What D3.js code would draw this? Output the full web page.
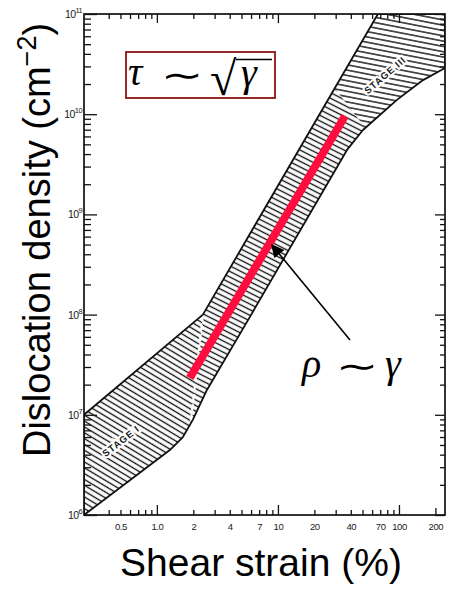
<!DOCTYPE html>
<html>
<head>
<meta charset="utf-8">
<script src="https://cdn.jsdelivr.net/npm/d3@7"></script>
<style>
  body { margin: 0; background: #fff; }
  svg { display: block; }
</style>
</head>
<body>
<svg id="chart" width="449" height="590"></svg>
<script>
// ---- data: shear strain (%) vs dislocation density (cm^-2) ----
const xDomain = [0.25, 240];
const yDomain = [1e6, 1e11];
const xTickValues = [0.5, 1, 2, 4, 7, 10, 20, 40, 70, 100, 200];
const xTickLabels = ["0.5", "1.0", "2", "4", "7", "10", "20", "40", "70", "100", "200"];
const xMajorTicks = [1, 10, 100];
const xMinorTicks = [0.4, 0.5, 0.6, 0.7, 0.8, 0.9, 2, 3, 4, 5, 6, 7, 8, 9,
                     20, 30, 40, 50, 60, 70, 80, 90];
const xEndTicks = [200];
const yDecades = [1e6, 1e7, 1e8, 1e9, 1e10, 1e11];
const yDecadeExponents = ["6", "7", "8", "9", "10", "11"];
const yMinorMultipliers = [2, 3, 4, 5, 6, 7, 8, 9];

// scatter band of measured densities
const upperEdge = [[0.25, 1e7], [2.4, 1e8], [67, 1e11], [240, 1e11]];
const lowerEdge = [[0.25, 1e6], [1.28, 4.45e6], [1.64, 6.0e6], [1.98, 8.9e6],
                   [2.59, 1.77e7], [5.87, 9.5e7], [37.2, 4.4e9], [50.4, 6.95e9],
                   [96.2, 1.39e10], [158, 2.19e10], [240, 2.89e10]];
// borders between hardening stages I / II and II / III
const stageOneBorder = [[2.4, 1e8], [1.9, 8.2e6]];
const stageThreeBorder = [[29.6, 1.8e10], [52.2, 7.4e9]];
const stageLabels = [
  { text: "STAGE I", at: [0.504, 5.48e6], angle: -38 },
  { text: "STAGE III", at: [76.6, 2.46e10], angle: -41 }
];
// linear rho ~ gamma fit through stage II
const fitLine = [[1.87, 2.33e7], [35.8, 9.6e9]];
const arrowFrom = [39.4, 5.58e7];
const arrowTo = [8.92, 4.95e8];

// ---- layout ----
const plot = { left: 84, right: 445, top: 14, bottom: 515 };
const svg = d3.select("#chart");
const defs = svg.append("defs");

const x = d3.scaleLog().domain(xDomain).range([plot.left, plot.right]);
const y = d3.scaleLog().domain(yDomain).range([plot.bottom, plot.top]);
const px = d => [x(d[0]), y(d[1])];

// hatch patterns, one per stage
function hatch(id, angle, gap) {
  const p = defs.append("pattern")
    .attr("id", id)
    .attr("patternUnits", "userSpaceOnUse")
    .attr("width", 20).attr("height", gap)
    .attr("patternTransform", `rotate(${angle})`);
  p.append("line")
    .attr("x1", -1).attr("x2", 21)
    .attr("y1", gap / 2).attr("y2", gap / 2)
    .attr("stroke", "#0d0d0d").attr("stroke-width", 1.35);
}
hatch("hatch1", 31, 5);
hatch("hatch2", 27, 5);
hatch("hatch3", 11, 5.2);

defs.append("clipPath").attr("id", "plotClip")
  .append("rect")
  .attr("x", plot.left).attr("y", plot.top)
  .attr("width", plot.right - plot.left).attr("height", plot.bottom - plot.top);

const bandPoints = upperEdge.concat(lowerEdge.slice().reverse());
const bandLine = d3.line().x(d => x(d[0])).y(d => y(d[1]));
defs.append("clipPath").attr("id", "bandClip")
  .append("path").attr("d", bandLine(bandPoints) + "Z");

// polygon covering the side of line pq that holds point ref
function halfPlane(p, q, ref) {
  const dx = q[0] - p[0], dy = q[1] - p[1], L = Math.hypot(dx, dy);
  const ux = dx / L, uy = dy / L;
  let nx = -uy, ny = ux;
  if ((ref[0] - p[0]) * nx + (ref[1] - p[1]) * ny < 0) { nx = -nx; ny = -ny; }
  const F = 2000;
  const a = [p[0] - ux * F, p[1] - uy * F], b = [p[0] + ux * F, p[1] + uy * F];
  return [a, b, [b[0] + nx * F, b[1] + ny * F], [a[0] + nx * F, a[1] + ny * F]];
}
defs.append("clipPath").attr("id", "stage1Clip")
  .append("polygon")
  .attr("points", halfPlane(px(stageOneBorder[0]), px(stageOneBorder[1]),
                            [plot.left, plot.bottom]).join(" "));
defs.append("clipPath").attr("id", "stage3Clip")
  .append("polygon")
  .attr("points", halfPlane(px(stageThreeBorder[0]), px(stageThreeBorder[1]),
                            [plot.right, plot.top]).join(" "));

// ---- band ----
const band = svg.append("g").attr("clip-path", "url(#plotClip)")
  .append("g").attr("clip-path", "url(#bandClip)");
const full = { x: plot.left, y: plot.top, width: plot.right - plot.left, height: plot.bottom - plot.top };
function fillRect(g, fill) {
  g.append("rect").attr("x", full.x).attr("y", full.y)
    .attr("width", full.width).attr("height", full.height).attr("fill", fill);
}
fillRect(band, "url(#hatch2)");
const s1 = band.append("g").attr("clip-path", "url(#stage1Clip)");
fillRect(s1, "#fff"); fillRect(s1, "url(#hatch1)");
const s3 = band.append("g").attr("clip-path", "url(#stage3Clip)");
fillRect(s3, "#fff"); fillRect(s3, "url(#hatch3)");

// light gap between stage I and stage II hatching
band.append("line")
  .attr("x1", x(stageOneBorder[0][0])).attr("y1", y(stageOneBorder[0][1]))
  .attr("x2", x(stageOneBorder[1][0])).attr("y2", y(stageOneBorder[1][1]))
  .attr("stroke", "#fff").attr("stroke-width", 2.2)
  .attr("stroke-dasharray", "7 3");

svg.append("g").attr("clip-path", "url(#plotClip)")
  .append("path")
  .attr("d", bandLine(bandPoints) + "Z")
  .attr("fill", "none").attr("stroke", "#111").attr("stroke-width", 1.8)
  .attr("stroke-linejoin", "round");

svg.selectAll(".stage-label").data(stageLabels).join("text")
  .attr("class", "stage-label")
  .attr("transform", d => `translate(${x(d.at[0])},${y(d.at[1])}) rotate(${d.angle})`)
  .attr("text-anchor", "middle").attr("dominant-baseline", "central")
  .attr("font-family", "Liberation Sans, Arial, sans-serif")
  .attr("font-size", 9.5).attr("font-weight", "bold").attr("letter-spacing", 1)
  .attr("fill", "#1a1a1a").attr("stroke", "#fff").attr("stroke-width", 4)
  .attr("paint-order", "stroke")
  .text(d => d.text);

// ---- frame and ticks ----
svg.append("rect")
  .attr("x", plot.left).attr("y", plot.top)
  .attr("width", plot.right - plot.left).attr("height", plot.bottom - plot.top)
  .attr("fill", "none").attr("stroke", "#111").attr("stroke-width", 1.7);

function tickRow(axisFn, scale, values, size, tx, ty) {
  const g = svg.append("g").attr("transform", `translate(${tx},${ty})`)
    .call(axisFn(scale).tickValues(values).tickSize(size).tickSizeOuter(0).tickFormat(""));
  g.select(".domain").remove();
  g.selectAll("line").attr("stroke", "#111").attr("stroke-width", 1.3);
  return g;
}
const yMinorTicks = [];
yDecades.slice(0, -1).forEach(d => yMinorMultipliers.forEach(m => yMinorTicks.push(d * m)));

tickRow(d3.axisBottom, x, xMinorTicks, -5, 0, plot.bottom);
tickRow(d3.axisBottom, x, xMajorTicks, -10, 0, plot.bottom);
tickRow(d3.axisBottom, x, xEndTicks, -7, 0, plot.bottom);
tickRow(d3.axisTop, x, xMinorTicks, -5, 0, plot.top);
tickRow(d3.axisTop, x, xMajorTicks, -9, 0, plot.top);
tickRow(d3.axisLeft, y, yMinorTicks, -7, plot.left, 0);
tickRow(d3.axisLeft, y, yDecades, -13, plot.left, 0);
tickRow(d3.axisRight, y, yMinorTicks, -5, plot.right, 0);
tickRow(d3.axisRight, y, yDecades, -10, plot.right, 0);

// x tick labels
const xl = svg.append("g").attr("transform", `translate(0,${plot.bottom})`)
  .call(d3.axisBottom(x).tickValues(xTickValues).tickSize(0).tickPadding(8)
    .tickFormat((d, i) => xTickLabels[i]));
xl.select(".domain").remove();
xl.selectAll("text").attr("font-family", "Liberation Sans, Arial, sans-serif")
  .attr("font-size", 9.5).attr("fill", "#1a1a1a").attr("letter-spacing", -0.4);

// y tick labels: 10 with superscript exponent
const yl = svg.append("g");
yDecades.forEach((d, i) => {
  const t = yl.append("text")
    .attr("x", plot.left - 2).attr("y", y(d) + 4)
    .attr("text-anchor", "end")
    .attr("font-family", "Liberation Sans, Arial, sans-serif")
    .attr("font-size", 10.5).attr("fill", "#1a1a1a").attr("letter-spacing", -0.6);
  t.append("tspan").text("10");
  t.append("tspan").attr("dy", -5).attr("font-size", 7.5).text(yDecadeExponents[i]);
});

// ---- fit line and pointer ----
svg.append("line")
  .attr("x1", x(fitLine[0][0])).attr("y1", y(fitLine[0][1]))
  .attr("x2", x(fitLine[1][0])).attr("y2", y(fitLine[1][1]))
  .attr("stroke", "#ff0d3f").attr("stroke-width", 8);

defs.append("marker").attr("id", "arrowHead")
  .attr("viewBox", "0 0 10 10").attr("refX", 9).attr("refY", 5)
  .attr("markerUnits", "userSpaceOnUse")
  .attr("markerWidth", 15).attr("markerHeight", 13)
  .attr("orient", "auto")
  .append("path").attr("d", "M0,0 L10,5 L0,10 Z").attr("fill", "#000");
svg.append("line")
  .attr("x1", x(arrowFrom[0])).attr("y1", y(arrowFrom[1]))
  .attr("x2", x(arrowTo[0])).attr("y2", y(arrowTo[1]))
  .attr("stroke", "#000").attr("stroke-width", 1.6)
  .attr("marker-end", "url(#arrowHead)");

// ---- scaling-law annotations ----
const math = "Liberation Serif, DejaVu Serif, serif";
function mathText(str, xPos, yPos, size, italic) {
  return svg.append("text").attr("x", xPos).attr("y", yPos)
    .attr("font-family", math).attr("font-size", size)
    .attr("font-style", italic ? "italic" : "normal")
    .attr("fill", "#000").text(str);
}
// wide, thin tilde centred on (cx, cy)
function tilde(cx, cy) {
  return svg.append("text")
    .attr("transform", `translate(${cx},${cy}) scale(1.5,1)`)
    .attr("y", 11)
    .attr("text-anchor", "middle")
    .attr("font-family", "DejaVu Sans, sans-serif")
    .attr("font-size", 34).attr("fill", "#000").text("∼");
}
svg.append("rect")
  .attr("x", 126).attr("y", 52).attr("width", 149).attr("height", 46)
  .attr("fill", "#fff").attr("stroke", "#8c1414").attr("stroke-width", 1.8);
mathText("τ", 128, 85, 40, true);
tilde(182, 76);
mathText("√", 210, 95, 48, false);
mathText("γ", 241, 86, 40, true);
svg.append("line")
  .attr("x1", 236).attr("x2", 272).attr("y1", 59.5).attr("y2", 59.5)
  .attr("stroke", "#000").attr("stroke-width", 1.6);

mathText("ρ", 302, 377, 40, true);
tilde(357, 367);
mathText("γ", 385, 377, 40, true);

// ---- axis titles ----
svg.append("text")
  .attr("x", 261).attr("y", 576)
  .attr("text-anchor", "middle")
  .attr("font-family", "Liberation Sans, Arial, sans-serif")
  .attr("font-size", 39).attr("fill", "#000")
  .text("Shear strain (%)");

const yt = svg.append("text")
  .attr("transform", "translate(50,240) rotate(-90)")
  .attr("text-anchor", "middle")
  .attr("font-family", "Liberation Sans, Arial, sans-serif")
  .attr("font-size", 38).attr("fill", "#000");
yt.append("tspan").text("Dislocation density (cm");
yt.append("tspan").attr("dy", -14).attr("font-size", 27).text("−2");
yt.append("tspan").attr("dy", 14).text(")");
</script>
</body>
</html>
